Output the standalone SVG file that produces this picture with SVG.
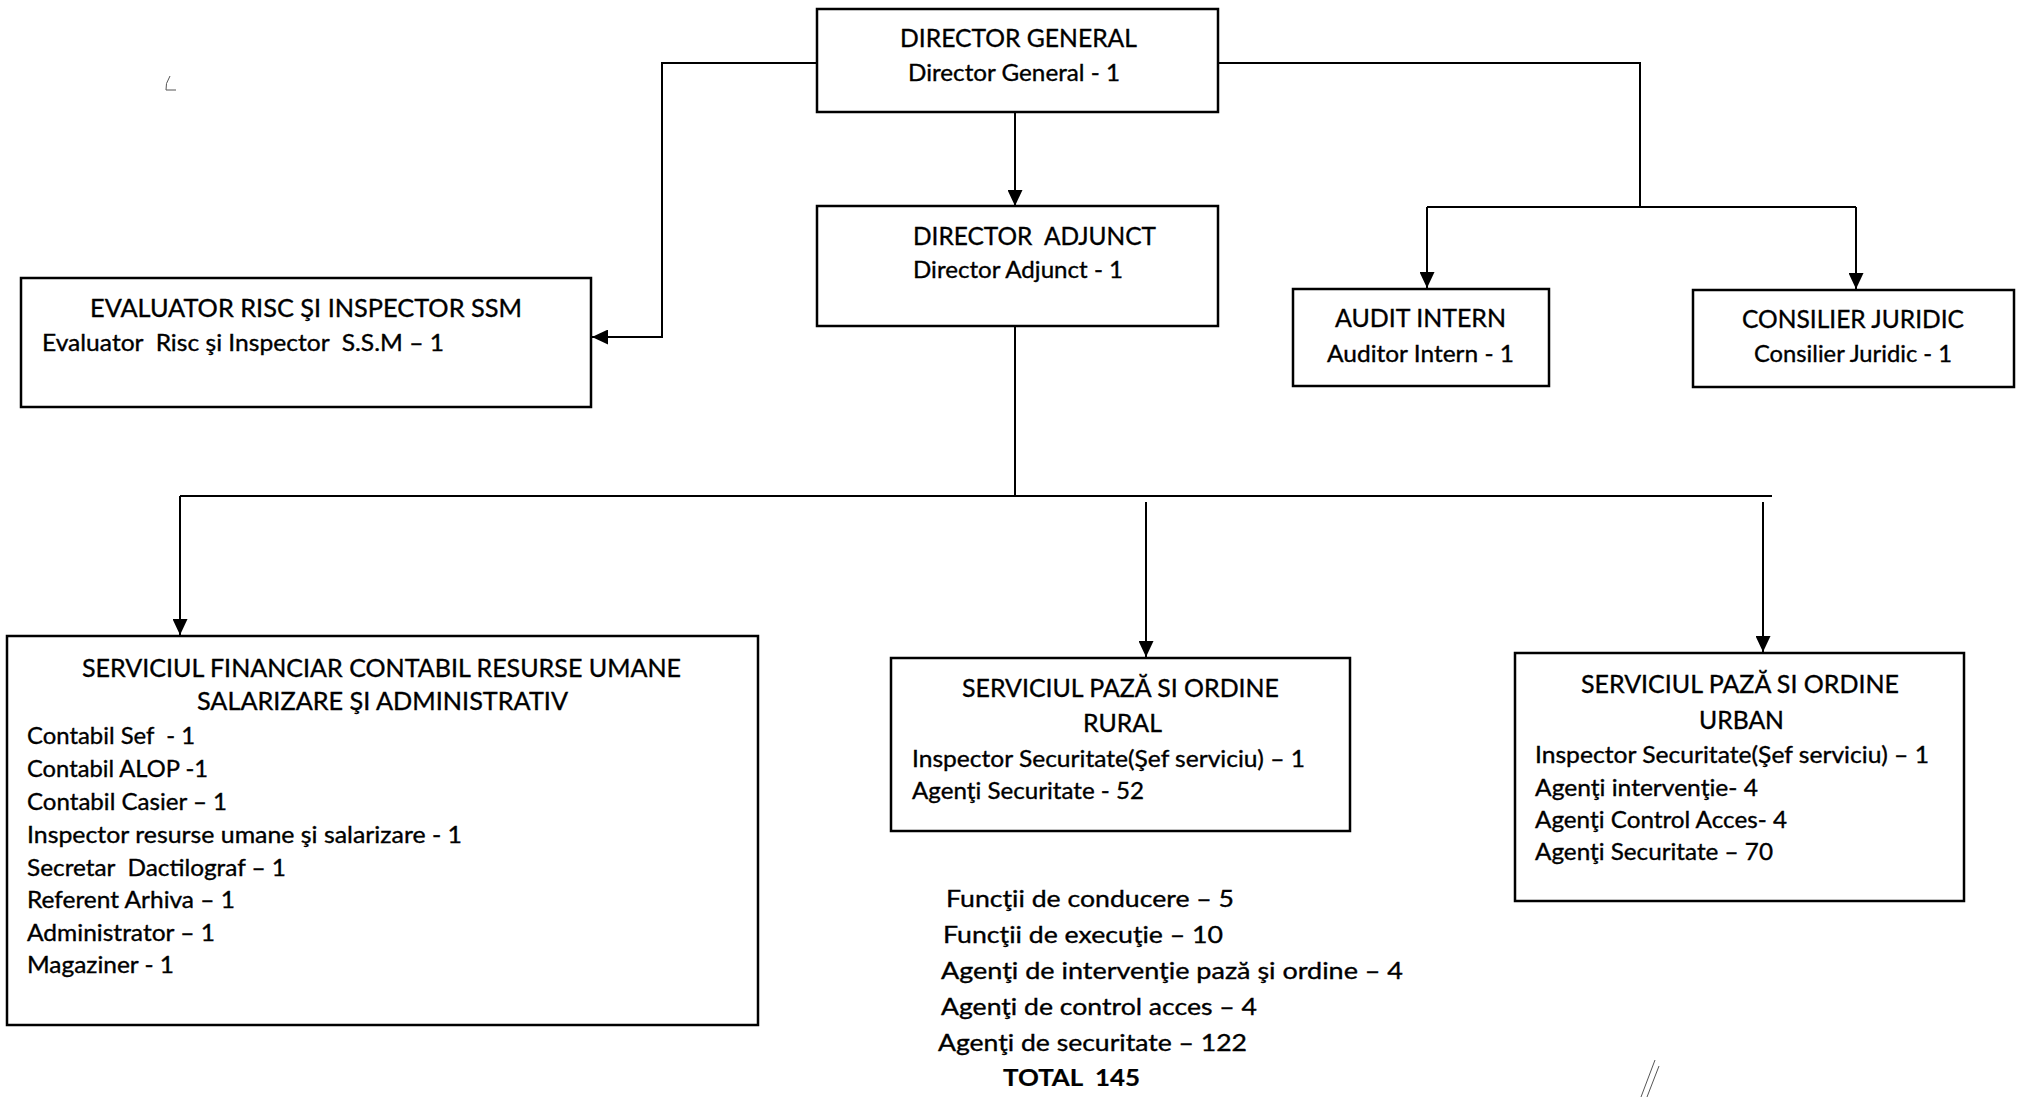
<svg xmlns="http://www.w3.org/2000/svg" width="2022" height="1097" viewBox="0 0 2022 1097">
<defs>
<marker id="arr" markerUnits="userSpaceOnUse" markerWidth="16" markerHeight="15" refX="16" refY="7.5" orient="auto">
<path d="M0,0 L16,7.5 L0,15 Z" fill="#000"/>
</marker>
<style>
.box{fill:#fff;stroke:#000;stroke-width:2.5}
.t{font-family:Lato,"Liberation Sans",sans-serif;font-size:25px;fill:#000;stroke:#000;stroke-width:0.35}
.c{font-family:Lato,"Liberation Sans",sans-serif;font-size:23px;fill:#000;stroke:#000;stroke-width:0.35}
.b{font-weight:bold;stroke-width:0.2}
.ln{fill:none;stroke:#000;stroke-width:2}
.scan{fill:none;stroke:#555;stroke-width:1}
</style>
</defs>
<rect width="2022" height="1097" fill="#fff"/>

<g id="connectors">
<path class="ln" d="M817,63 H662 V337 H592" marker-end="url(#arr)"/>
<path class="ln" d="M1015,112 V206" marker-end="url(#arr)"/>
<path class="ln" d="M1218,63 H1640 V207"/>
<path class="ln" d="M1427,207 H1856"/>
<path class="ln" d="M1427,207 V288" marker-end="url(#arr)"/>
<path class="ln" d="M1856,207 V289" marker-end="url(#arr)"/>
<path class="ln" d="M1015,326 V497"/>
<path class="ln" d="M180,496 H1772"/>
<path class="ln" d="M180,496 V635" marker-end="url(#arr)"/>
<path class="ln" d="M1146,502 V657" marker-end="url(#arr)"/>
<path class="ln" d="M1763,502 V652" marker-end="url(#arr)"/>
</g>

<g id="director-general">
<rect class="box" x="817" y="9" width="401" height="103"/>
<text class="t" x="900" y="47" textLength="237" lengthAdjust="spacingAndGlyphs">DIRECTOR GENERAL</text>
<text class="c" x="908" y="81" textLength="212" lengthAdjust="spacingAndGlyphs">Director General - 1</text>
</g>

<g id="director-adjunct">
<rect class="box" x="817" y="206" width="401" height="120"/>
<text class="t" x="913" y="245" textLength="243" lengthAdjust="spacingAndGlyphs" xml:space="preserve">DIRECTOR  ADJUNCT</text>
<text class="c" x="913" y="278" textLength="210" lengthAdjust="spacingAndGlyphs">Director Adjunct - 1</text>
</g>

<g id="evaluator">
<rect class="box" x="21" y="278" width="570" height="129"/>
<text class="t" x="90" y="317" textLength="432" lengthAdjust="spacingAndGlyphs">EVALUATOR RISC ŞI INSPECTOR SSM</text>
<text class="c" x="42" y="351" textLength="402" lengthAdjust="spacingAndGlyphs" xml:space="preserve">Evaluator  Risc şi Inspector  S.S.M – 1</text>
</g>

<g id="audit-intern">
<rect class="box" x="1293" y="289" width="256" height="97"/>
<text class="t" x="1335" y="327" textLength="171" lengthAdjust="spacingAndGlyphs">AUDIT INTERN</text>
<text class="c" x="1327" y="362" textLength="187" lengthAdjust="spacingAndGlyphs">Auditor Intern - 1</text>
</g>

<g id="consilier-juridic">
<rect class="box" x="1693" y="290" width="321" height="97"/>
<text class="t" x="1742" y="328" textLength="222" lengthAdjust="spacingAndGlyphs">CONSILIER JURIDIC</text>
<text class="c" x="1754" y="362" textLength="198" lengthAdjust="spacingAndGlyphs">Consilier Juridic - 1</text>
</g>

<g id="serviciul-financiar">
<rect class="box" x="7" y="636" width="751" height="389"/>
<text class="t" x="82" y="677" textLength="599" lengthAdjust="spacingAndGlyphs">SERVICIUL FINANCIAR CONTABIL RESURSE UMANE</text>
<text class="t" x="197" y="710" textLength="371" lengthAdjust="spacingAndGlyphs">SALARIZARE ŞI ADMINISTRATIV</text>
<text class="c" x="27" y="744" textLength="168" lengthAdjust="spacingAndGlyphs" xml:space="preserve">Contabil Sef  - 1</text>
<text class="c" x="27" y="777" textLength="181" lengthAdjust="spacingAndGlyphs">Contabil ALOP -1</text>
<text class="c" x="27" y="810" textLength="200" lengthAdjust="spacingAndGlyphs">Contabil Casier – 1</text>
<text class="c" x="27" y="843" textLength="435" lengthAdjust="spacingAndGlyphs">Inspector resurse umane şi salarizare - 1</text>
<text class="c" x="27" y="876" textLength="259" lengthAdjust="spacingAndGlyphs" xml:space="preserve">Secretar  Dactilograf – 1</text>
<text class="c" x="27" y="908" textLength="208" lengthAdjust="spacingAndGlyphs">Referent Arhiva – 1</text>
<text class="c" x="27" y="941" textLength="188" lengthAdjust="spacingAndGlyphs">Administrator – 1</text>
<text class="c" x="27" y="973" textLength="147" lengthAdjust="spacingAndGlyphs">Magaziner - 1</text>
</g>

<g id="serviciul-paza-rural">
<rect class="box" x="891" y="658" width="459" height="173"/>
<text class="t" x="962" y="697" textLength="317" lengthAdjust="spacingAndGlyphs">SERVICIUL PAZĂ SI ORDINE</text>
<text class="t" x="1083" y="732" textLength="79" lengthAdjust="spacingAndGlyphs">RURAL</text>
<text class="c" x="912" y="767" textLength="393" lengthAdjust="spacingAndGlyphs">Inspector Securitate(Şef serviciu) – 1</text>
<text class="c" x="912" y="799" textLength="232" lengthAdjust="spacingAndGlyphs">Agenţi Securitate - 52</text>
</g>

<g id="serviciul-paza-urban">
<rect class="box" x="1515" y="653" width="449" height="248"/>
<text class="t" x="1581" y="693" textLength="318" lengthAdjust="spacingAndGlyphs">SERVICIUL PAZĂ SI ORDINE</text>
<text class="t" x="1699" y="729" textLength="85" lengthAdjust="spacingAndGlyphs">URBAN</text>
<text class="c" x="1535" y="763" textLength="394" lengthAdjust="spacingAndGlyphs">Inspector Securitate(Şef serviciu) – 1</text>
<text class="c" x="1535" y="796" textLength="223" lengthAdjust="spacingAndGlyphs">Agenţi intervenţie- 4</text>
<text class="c" x="1535" y="828" textLength="252" lengthAdjust="spacingAndGlyphs">Agenţi Control Acces- 4</text>
<text class="c" x="1535" y="860" textLength="238" lengthAdjust="spacingAndGlyphs">Agenţi Securitate – 70</text>
</g>

<g id="totals">
<text class="c" x="946" y="907" textLength="288" lengthAdjust="spacingAndGlyphs">Funcţii de conducere – 5</text>
<text class="c" x="943" y="943" textLength="280" lengthAdjust="spacingAndGlyphs">Funcţii de execuţie – 10</text>
<text class="c" x="941" y="979" textLength="462" lengthAdjust="spacingAndGlyphs">Agenţi de intervenţie pază şi ordine – 4</text>
<text class="c" x="941" y="1015" textLength="316" lengthAdjust="spacingAndGlyphs">Agenţi de control acces – 4</text>
<text class="c" x="938" y="1051" textLength="309" lengthAdjust="spacingAndGlyphs">Agenţi de securitate – 122</text>
<text class="c b" x="1003" y="1086" textLength="137" lengthAdjust="spacingAndGlyphs" xml:space="preserve">TOTAL  145</text>
</g>

<g id="scan-marks">
<path class="scan" d="M170,76 Q165,84 166,90 L176,90"/>
<path class="scan" d="M1655,1060 L1641,1097 M1659,1066 L1647,1097"/>
</g>
</svg>
